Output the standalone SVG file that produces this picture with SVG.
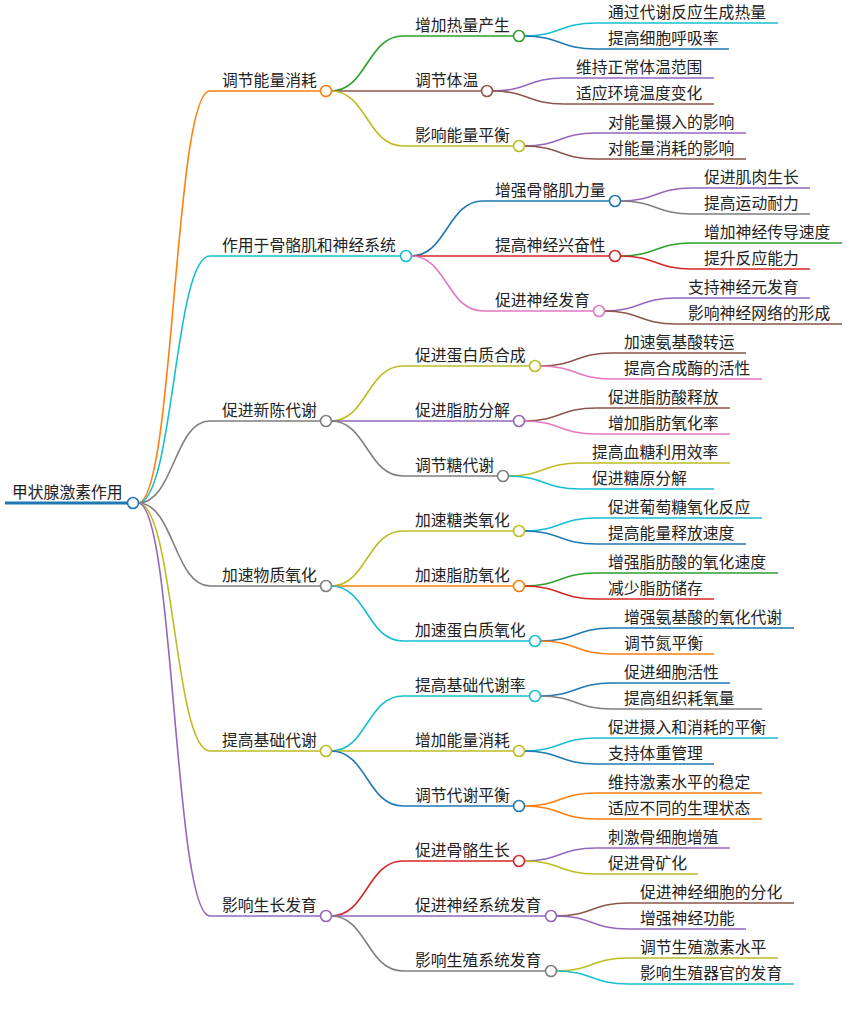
<svg xmlns="http://www.w3.org/2000/svg" width="847" height="1014" viewBox="0 0 847 1014">
<style>
text{font-family:"Noto Sans CJK SC","Liberation Sans",sans-serif;font-size:15.8px;fill:#222}
path{fill:none;stroke-width:1.6}
circle{fill:#fff;stroke-width:1.6}
.o{stroke:#ff7f0e}.c{stroke:#17becf}.g{stroke:#7f7f7f}.y{stroke:#bcbd22}.p{stroke:#9467bd}
.gr{stroke:#2ca02c}.br{stroke:#8c564b}.b{stroke:#1f77b4}.r{stroke:#d62728}.pk{stroke:#e377c2}
</style>
<rect width="847" height="1014" fill="#fff"/>
<g id="connectors">
<path class="b" style="stroke-width:3" d="M5,503H127"/>
<path class="o" d="M138,503C174,503 174,91 210,91H320"/>
<path class="c" d="M138,503C174,503 174,256 210,256H400"/>
<path class="g" d="M138,503C174,503 174,421 210,421H320"/>
<path class="g" d="M138,503C174,503 174,586 210,586H320"/>
<path class="y" d="M138,503C174,503 174,751 210,751H320"/>
<path class="p" d="M138,503C174,503 174,916 210,916H320"/>
<path class="gr" d="M331,91C367,91 367,36 403,36H513"/>
<path class="br" d="M331,91C367,91 367,91 403,91H481"/>
<path class="y" d="M331,91C367,91 367,146 403,146H513"/>
<path class="c" d="M524,36C560,36 560,23 596,23H778"/>
<path class="b" d="M524,36C560,36 560,49 596,49H729"/>
<path class="p" d="M492,91C528,91 528,78 564,78H714"/>
<path class="br" d="M492,91C528,91 528,104 564,104H714"/>
<path class="p" d="M524,146C560,146 560,133 596,133H746"/>
<path class="br" d="M524,146C560,146 560,159 596,159H746"/>
<path class="b" d="M411,256C447,256 447,201 483,201H609"/>
<path class="r" d="M411,256C447,256 447,256 483,256H609"/>
<path class="pk" d="M411,256C447,256 447,311 483,311H593"/>
<path class="p" d="M620,201C656,201 656,188 692,188H810"/>
<path class="g" d="M620,201C656,201 656,214 692,214H810"/>
<path class="gr" d="M620,256C656,256 656,243 692,243H842"/>
<path class="r" d="M620,256C656,256 656,269 692,269H810"/>
<path class="p" d="M604,311C640,311 640,298 676,298H810"/>
<path class="br" d="M604,311C640,311 640,324 676,324H842"/>
<path class="y" d="M331,421C367,421 367,366 403,366H529"/>
<path class="p" d="M331,421C367,421 367,421 403,421H513"/>
<path class="g" d="M331,421C367,421 367,476 403,476H497"/>
<path class="br" d="M540,366C576,366 576,353 612,353H746"/>
<path class="pk" d="M540,366C576,366 576,379 612,379H762"/>
<path class="br" d="M524,421C560,421 560,408 596,408H730"/>
<path class="pk" d="M524,421C560,421 560,434 596,434H730"/>
<path class="y" d="M508,476C544,476 544,463 580,463H730"/>
<path class="c" d="M508,476C544,476 544,489 580,489H714"/>
<path class="y" d="M331,586C367,586 367,531 403,531H513"/>
<path class="o" d="M331,586C367,586 367,586 403,586H513"/>
<path class="c" d="M331,586C367,586 367,641 403,641H529"/>
<path class="c" d="M524,531C560,531 560,518 596,518H762"/>
<path class="b" d="M524,531C560,531 560,544 596,544H746"/>
<path class="gr" d="M524,586C560,586 560,573 596,573H778"/>
<path class="r" d="M524,586C560,586 560,599 596,599H714"/>
<path class="b" d="M540,641C576,641 576,628 612,628H794"/>
<path class="o" d="M540,641C576,641 576,654 612,654H714"/>
<path class="c" d="M331,751C367,751 367,696 403,696H529"/>
<path class="y" d="M331,751C367,751 367,751 403,751H513"/>
<path class="b" d="M331,751C367,751 367,806 403,806H513"/>
<path class="b" d="M540,696C576,696 576,683 612,683H730"/>
<path class="g" d="M540,696C576,696 576,709 612,709H762"/>
<path class="c" d="M524,751C560,751 560,738 596,738H778"/>
<path class="b" d="M524,751C560,751 560,764 596,764H714"/>
<path class="o" d="M524,806C560,806 560,793 596,793H762"/>
<path class="o" d="M524,806C560,806 560,819 596,819H762"/>
<path class="r" d="M331,916C367,916 367,861 403,861H513"/>
<path class="p" d="M331,916C367,916 367,916 403,916H545"/>
<path class="g" d="M331,916C367,916 367,971 403,971H545"/>
<path class="p" d="M524,861C560,861 560,848 596,848H730"/>
<path class="y" d="M524,861C560,861 560,874 596,874H698"/>
<path class="br" d="M556,916C592,916 592,903 628,903H794"/>
<path class="p" d="M556,916C592,916 592,929 628,929H746"/>
<path class="y" d="M556,971C592,971 592,958 628,958H778"/>
<path class="c" d="M556,971C592,971 592,984 628,984H794"/>
</g>
<g id="root"><text x="12" y="498">甲状腺激素作用</text><circle class="b" cx="133" cy="503" r="5.5"/></g>
<g id="n1"><text x="222" y="86">调节能量消耗</text><circle class="o" cx="326" cy="91" r="5.5"/></g>
<g id="n1a"><text x="415" y="31">增加热量产生</text><circle class="gr" cx="519" cy="36" r="5.5"/></g>
<g id="n1a1"><text x="608" y="18">通过代谢反应生成热量</text></g>
<g id="n1a2"><text x="608" y="44">提高细胞呼吸率</text></g>
<g id="n1b"><text x="415" y="86">调节体温</text><circle class="br" cx="487" cy="91" r="5.5"/></g>
<g id="n1b1"><text x="576" y="73">维持正常体温范围</text></g>
<g id="n1b2"><text x="576" y="99">适应环境温度变化</text></g>
<g id="n1c"><text x="415" y="141">影响能量平衡</text><circle class="y" cx="519" cy="146" r="5.5"/></g>
<g id="n1c1"><text x="608" y="128">对能量摄入的影响</text></g>
<g id="n1c2"><text x="608" y="154">对能量消耗的影响</text></g>
<g id="n2"><text x="222" y="251">作用于骨骼肌和神经系统</text><circle class="c" cx="406" cy="256" r="5.5"/></g>
<g id="n2a"><text x="495" y="196">增强骨骼肌力量</text><circle class="b" cx="615" cy="201" r="5.5"/></g>
<g id="n2a1"><text x="704" y="183">促进肌肉生长</text></g>
<g id="n2a2"><text x="704" y="209">提高运动耐力</text></g>
<g id="n2b"><text x="495" y="251">提高神经兴奋性</text><circle class="r" cx="615" cy="256" r="5.5"/></g>
<g id="n2b1"><text x="704" y="238">增加神经传导速度</text></g>
<g id="n2b2"><text x="704" y="264">提升反应能力</text></g>
<g id="n2c"><text x="495" y="306">促进神经发育</text><circle class="pk" cx="599" cy="311" r="5.5"/></g>
<g id="n2c1"><text x="688" y="293">支持神经元发育</text></g>
<g id="n2c2"><text x="688" y="319">影响神经网络的形成</text></g>
<g id="n3"><text x="222" y="416">促进新陈代谢</text><circle class="g" cx="326" cy="421" r="5.5"/></g>
<g id="n3a"><text x="415" y="361">促进蛋白质合成</text><circle class="y" cx="535" cy="366" r="5.5"/></g>
<g id="n3a1"><text x="624" y="348">加速氨基酸转运</text></g>
<g id="n3a2"><text x="624" y="374">提高合成酶的活性</text></g>
<g id="n3b"><text x="415" y="416">促进脂肪分解</text><circle class="p" cx="519" cy="421" r="5.5"/></g>
<g id="n3b1"><text x="608" y="403">促进脂肪酸释放</text></g>
<g id="n3b2"><text x="608" y="429">增加脂肪氧化率</text></g>
<g id="n3c"><text x="415" y="471">调节糖代谢</text><circle class="g" cx="503" cy="476" r="5.5"/></g>
<g id="n3c1"><text x="592" y="458">提高血糖利用效率</text></g>
<g id="n3c2"><text x="592" y="484">促进糖原分解</text></g>
<g id="n4"><text x="222" y="581">加速物质氧化</text><circle class="g" cx="326" cy="586" r="5.5"/></g>
<g id="n4a"><text x="415" y="526">加速糖类氧化</text><circle class="y" cx="519" cy="531" r="5.5"/></g>
<g id="n4a1"><text x="608" y="513">促进葡萄糖氧化反应</text></g>
<g id="n4a2"><text x="608" y="539">提高能量释放速度</text></g>
<g id="n4b"><text x="415" y="581">加速脂肪氧化</text><circle class="o" cx="519" cy="586" r="5.5"/></g>
<g id="n4b1"><text x="608" y="568">增强脂肪酸的氧化速度</text></g>
<g id="n4b2"><text x="608" y="594">减少脂肪储存</text></g>
<g id="n4c"><text x="415" y="636">加速蛋白质氧化</text><circle class="c" cx="535" cy="641" r="5.5"/></g>
<g id="n4c1"><text x="624" y="623">增强氨基酸的氧化代谢</text></g>
<g id="n4c2"><text x="624" y="649">调节氮平衡</text></g>
<g id="n5"><text x="222" y="746">提高基础代谢</text><circle class="y" cx="326" cy="751" r="5.5"/></g>
<g id="n5a"><text x="415" y="691">提高基础代谢率</text><circle class="c" cx="535" cy="696" r="5.5"/></g>
<g id="n5a1"><text x="624" y="678">促进细胞活性</text></g>
<g id="n5a2"><text x="624" y="704">提高组织耗氧量</text></g>
<g id="n5b"><text x="415" y="746">增加能量消耗</text><circle class="y" cx="519" cy="751" r="5.5"/></g>
<g id="n5b1"><text x="608" y="733">促进摄入和消耗的平衡</text></g>
<g id="n5b2"><text x="608" y="759">支持体重管理</text></g>
<g id="n5c"><text x="415" y="801">调节代谢平衡</text><circle class="b" cx="519" cy="806" r="5.5"/></g>
<g id="n5c1"><text x="608" y="788">维持激素水平的稳定</text></g>
<g id="n5c2"><text x="608" y="814">适应不同的生理状态</text></g>
<g id="n6"><text x="222" y="911">影响生长发育</text><circle class="p" cx="326" cy="916" r="5.5"/></g>
<g id="n6a"><text x="415" y="856">促进骨骼生长</text><circle class="r" cx="519" cy="861" r="5.5"/></g>
<g id="n6a1"><text x="608" y="843">刺激骨细胞增殖</text></g>
<g id="n6a2"><text x="608" y="869">促进骨矿化</text></g>
<g id="n6b"><text x="415" y="911">促进神经系统发育</text><circle class="p" cx="551" cy="916" r="5.5"/></g>
<g id="n6b1"><text x="640" y="898">促进神经细胞的分化</text></g>
<g id="n6b2"><text x="640" y="924">增强神经功能</text></g>
<g id="n6c"><text x="415" y="966">影响生殖系统发育</text><circle class="g" cx="551" cy="971" r="5.5"/></g>
<g id="n6c1"><text x="640" y="953">调节生殖激素水平</text></g>
<g id="n6c2"><text x="640" y="979">影响生殖器官的发育</text></g>
</svg>
